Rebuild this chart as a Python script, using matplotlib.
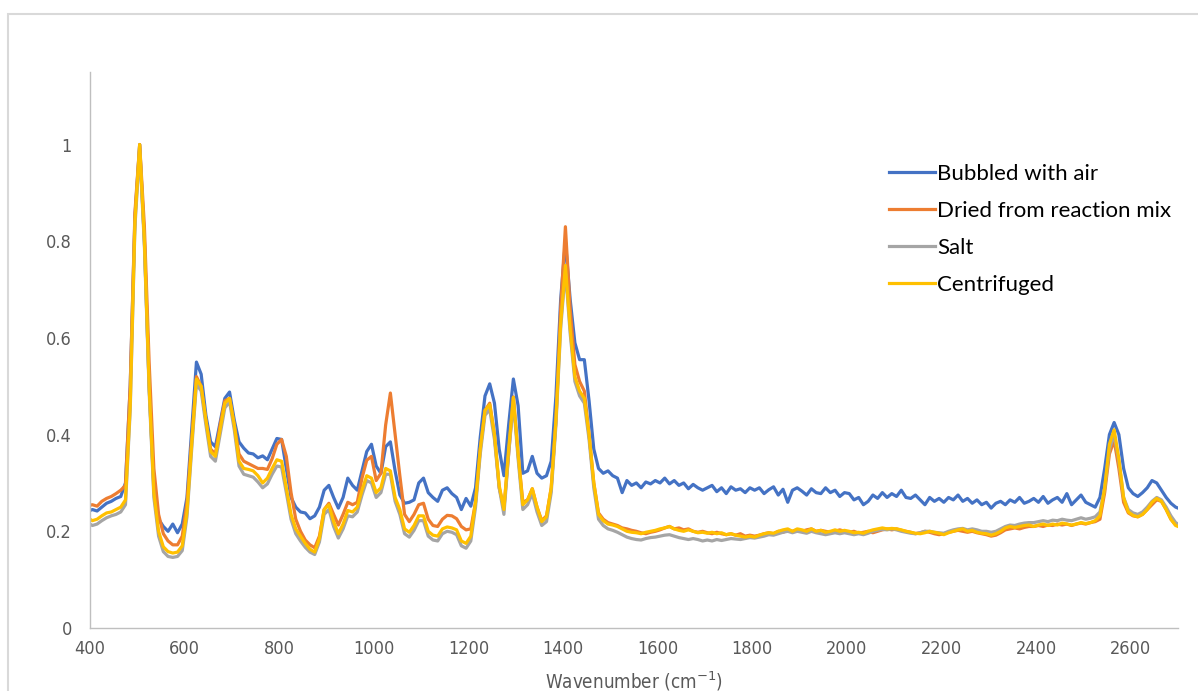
import matplotlib
matplotlib.use("Agg")
import matplotlib.pyplot as plt
import matplotlib.patches as mpatches
from matplotlib import font_manager

# ---------------- data ----------------
# wavenumber grid: 400, 405, 415, ..., 2695, 2700
wavenumber = [400] + list(range(405, 2700, 10)) + [2700]

bubbled_rows = [
    [0.245, 0.242, 0.250, 0.258, 0.262, 0.268, 0.272, 0.300, 0.500, 0.850],  # 405-495
    [1.000, 0.800, 0.500, 0.290, 0.225, 0.210, 0.200, 0.215, 0.197, 0.215],  # 505-595
    [0.270, 0.410, 0.550, 0.525, 0.440, 0.385, 0.375, 0.425, 0.475, 0.488],  # 605-695
    [0.430, 0.385, 0.372, 0.362, 0.360, 0.352, 0.356, 0.348, 0.370, 0.392],  # 705-795
    [0.390, 0.330, 0.270, 0.250, 0.240, 0.238, 0.226, 0.232, 0.250, 0.285],  # 805-895
    [0.295, 0.270, 0.248, 0.270, 0.310, 0.295, 0.285, 0.325, 0.365, 0.380],  # 905-995
    [0.335, 0.320, 0.375, 0.385, 0.325, 0.275, 0.258, 0.260, 0.265, 0.300],  # 1005-1095
    [0.310, 0.280, 0.270, 0.262, 0.285, 0.290, 0.278, 0.270, 0.245, 0.268],  # 1105-1195
    [0.252, 0.290, 0.395, 0.480, 0.505, 0.465, 0.370, 0.315, 0.420, 0.515],  # 1205-1295
    [0.460, 0.320, 0.325, 0.355, 0.320, 0.310, 0.315, 0.345, 0.480, 0.680],  # 1305-1395
    [0.800, 0.680, 0.590, 0.555, 0.555, 0.470, 0.370, 0.330, 0.320, 0.325],  # 1405-1495
    [0.315, 0.310, 0.280, 0.305, 0.295, 0.300, 0.290, 0.302, 0.298, 0.305],  # 1505-1595
    [0.300, 0.310, 0.298, 0.305, 0.295, 0.300, 0.288, 0.297, 0.290, 0.285],  # 1605-1695
    [0.290, 0.295, 0.282, 0.290, 0.278, 0.292, 0.285, 0.288, 0.280, 0.290],  # 1705-1795
    [0.285, 0.290, 0.278, 0.286, 0.292, 0.275, 0.287, 0.260, 0.285, 0.290],  # 1805-1895
    [0.283, 0.275, 0.288, 0.280, 0.278, 0.290, 0.280, 0.285, 0.272, 0.280],  # 1905-1995
    [0.278, 0.265, 0.270, 0.255, 0.262, 0.275, 0.268, 0.280, 0.270, 0.278],  # 2005-2095
    [0.272, 0.285, 0.270, 0.268, 0.275, 0.265, 0.255, 0.270, 0.262, 0.268],  # 2105-2195
    [0.260, 0.270, 0.265, 0.275, 0.262, 0.268, 0.258, 0.265, 0.255, 0.260],  # 2205-2295
    [0.248, 0.258, 0.262, 0.255, 0.265, 0.260, 0.270, 0.258, 0.262, 0.268],  # 2305-2395
    [0.260, 0.272, 0.258, 0.265, 0.270, 0.260, 0.278, 0.255, 0.265, 0.275],  # 2405-2495
    [0.260, 0.255, 0.250, 0.270, 0.330, 0.400, 0.425, 0.400, 0.330, 0.290],  # 2505-2595
    [0.278, 0.272, 0.280, 0.290, 0.305, 0.300, 0.285, 0.270, 0.258, 0.250],  # 2605-2695
]
bubbled = [0.243] + [v for r in bubbled_rows for v in r] + [0.248]

dried_rows = [
    [0.255, 0.252, 0.262, 0.268, 0.272, 0.278, 0.285, 0.295, 0.500, 0.860],
    [1.000, 0.830, 0.550, 0.330, 0.235, 0.195, 0.180, 0.172, 0.172, 0.190],
    [0.260, 0.390, 0.520, 0.500, 0.430, 0.370, 0.360, 0.420, 0.470, 0.475],
    [0.420, 0.360, 0.345, 0.340, 0.335, 0.330, 0.330, 0.328, 0.350, 0.380],
    [0.390, 0.355, 0.280, 0.225, 0.200, 0.182, 0.172, 0.166, 0.190, 0.245],
    [0.258, 0.235, 0.213, 0.235, 0.260, 0.255, 0.260, 0.310, 0.347, 0.355],
    [0.305, 0.320, 0.420, 0.486, 0.400, 0.315, 0.235, 0.220, 0.235, 0.255],
    [0.258, 0.225, 0.212, 0.210, 0.225, 0.233, 0.232, 0.226, 0.210, 0.203],
    [0.205, 0.260, 0.370, 0.450, 0.465, 0.400, 0.290, 0.248, 0.360, 0.478],
    [0.360, 0.260, 0.265, 0.288, 0.250, 0.222, 0.232, 0.290, 0.430, 0.660],
    [0.830, 0.660, 0.545, 0.510, 0.490, 0.400, 0.300, 0.238, 0.225, 0.218],
    [0.215, 0.212, 0.207, 0.205, 0.202, 0.200, 0.197, 0.195, 0.198, 0.200],
    [0.203, 0.207, 0.210, 0.205, 0.207, 0.203, 0.205, 0.200, 0.198, 0.200],
    [0.197, 0.195, 0.198, 0.195, 0.193, 0.195, 0.192, 0.195, 0.190, 0.192],
    [0.190, 0.192, 0.195, 0.197, 0.195, 0.200, 0.198, 0.202, 0.200, 0.203],
    [0.200, 0.203, 0.205, 0.200, 0.202, 0.200, 0.198, 0.200, 0.203, 0.200],
    [0.198, 0.200, 0.196, 0.198, 0.200, 0.197, 0.200, 0.203, 0.205, 0.203],
    [0.205, 0.202, 0.200, 0.198, 0.195, 0.197, 0.200, 0.198, 0.195, 0.193],
    [0.195, 0.198, 0.200, 0.202, 0.200, 0.198, 0.200, 0.197, 0.195, 0.193],
    [0.190, 0.192, 0.197, 0.203, 0.205, 0.207, 0.205, 0.208, 0.210, 0.210],
    [0.212, 0.210, 0.213, 0.212, 0.215, 0.213, 0.215, 0.212, 0.215, 0.217],
    [0.215, 0.218, 0.220, 0.225, 0.280, 0.360, 0.388, 0.330, 0.260, 0.238],
    [0.232, 0.230, 0.235, 0.245, 0.255, 0.265, 0.262, 0.245, 0.225, 0.213],
]
dried = [0.254] + [v for r in dried_rows for v in r] + [0.212]

salt_rows = [
    [0.212, 0.215, 0.222, 0.228, 0.232, 0.235, 0.240, 0.255, 0.450, 0.830],
    [0.990, 0.790, 0.490, 0.270, 0.190, 0.158, 0.148, 0.146, 0.148, 0.160],
    [0.230, 0.370, 0.505, 0.490, 0.420, 0.355, 0.345, 0.400, 0.455, 0.468],
    [0.410, 0.335, 0.318, 0.315, 0.312, 0.302, 0.290, 0.298, 0.318, 0.335],
    [0.333, 0.280, 0.225, 0.195, 0.180, 0.167, 0.157, 0.152, 0.178, 0.235],
    [0.245, 0.210, 0.186, 0.205, 0.232, 0.230, 0.240, 0.275, 0.305, 0.300],
    [0.270, 0.280, 0.318, 0.318, 0.262, 0.235, 0.195, 0.188, 0.202, 0.222],
    [0.222, 0.190, 0.182, 0.180, 0.195, 0.200, 0.198, 0.193, 0.170, 0.165],
    [0.180, 0.250, 0.360, 0.440, 0.452, 0.390, 0.290, 0.235, 0.360, 0.468],
    [0.350, 0.245, 0.255, 0.278, 0.240, 0.212, 0.220, 0.280, 0.420, 0.620],
    [0.740, 0.610, 0.510, 0.480, 0.465, 0.390, 0.290, 0.225, 0.212, 0.205],
    [0.202, 0.198, 0.193, 0.188, 0.185, 0.183, 0.182, 0.185, 0.187, 0.188],
    [0.190, 0.192, 0.193, 0.190, 0.187, 0.185, 0.183, 0.185, 0.183, 0.180],
    [0.182, 0.180, 0.183, 0.181, 0.183, 0.185, 0.184, 0.183, 0.185, 0.187],
    [0.186, 0.188, 0.190, 0.193, 0.192, 0.195, 0.198, 0.200, 0.197, 0.200],
    [0.198, 0.196, 0.200, 0.197, 0.195, 0.193, 0.195, 0.197, 0.195, 0.197],
    [0.195, 0.193, 0.195, 0.193, 0.196, 0.200, 0.202, 0.204, 0.203, 0.205],
    [0.203, 0.200, 0.198, 0.196, 0.195, 0.197, 0.200, 0.200, 0.198, 0.197],
    [0.196, 0.200, 0.203, 0.205, 0.206, 0.203, 0.205, 0.203, 0.200, 0.200],
    [0.198, 0.200, 0.205, 0.210, 0.213, 0.212, 0.215, 0.217, 0.218, 0.218],
    [0.220, 0.222, 0.220, 0.223, 0.222, 0.225, 0.223, 0.222, 0.225, 0.228],
    [0.225, 0.227, 0.230, 0.240, 0.290, 0.370, 0.400, 0.345, 0.270, 0.245],
    [0.238, 0.235, 0.240, 0.250, 0.262, 0.270, 0.265, 0.250, 0.232, 0.218],
]
salt = [0.215] + [v for r in salt_rows for v in r] + [0.215]

centrifuged_rows = [
    [0.222, 0.225, 0.232, 0.238, 0.240, 0.245, 0.250, 0.265, 0.460, 0.840],
    [1.000, 0.800, 0.500, 0.280, 0.200, 0.168, 0.158, 0.155, 0.157, 0.170],
    [0.240, 0.380, 0.515, 0.500, 0.430, 0.365, 0.355, 0.410, 0.465, 0.475],
    [0.420, 0.345, 0.330, 0.328, 0.325, 0.315, 0.300, 0.310, 0.330, 0.348],
    [0.345, 0.290, 0.235, 0.205, 0.190, 0.175, 0.163, 0.157, 0.185, 0.245],
    [0.255, 0.220, 0.195, 0.215, 0.243, 0.240, 0.250, 0.285, 0.315, 0.310],
    [0.280, 0.290, 0.330, 0.325, 0.270, 0.245, 0.205, 0.198, 0.212, 0.232],
    [0.232, 0.200, 0.192, 0.190, 0.205, 0.209, 0.207, 0.203, 0.180, 0.175],
    [0.190, 0.260, 0.370, 0.450, 0.462, 0.400, 0.295, 0.245, 0.370, 0.477],
    [0.360, 0.255, 0.265, 0.288, 0.250, 0.220, 0.230, 0.290, 0.430, 0.630],
    [0.750, 0.620, 0.520, 0.490, 0.475, 0.400, 0.300, 0.235, 0.222, 0.215],
    [0.213, 0.210, 0.205, 0.200, 0.198, 0.197, 0.195, 0.198, 0.200, 0.202],
    [0.205, 0.207, 0.210, 0.205, 0.202, 0.200, 0.203, 0.200, 0.197, 0.198],
    [0.196, 0.198, 0.195, 0.197, 0.193, 0.195, 0.192, 0.190, 0.188, 0.190],
    [0.188, 0.192, 0.195, 0.197, 0.196, 0.200, 0.203, 0.205, 0.200, 0.205],
    [0.203, 0.200, 0.205, 0.200, 0.202, 0.198, 0.200, 0.203, 0.200, 0.202],
    [0.200, 0.197, 0.198, 0.196, 0.200, 0.203, 0.205, 0.207, 0.205, 0.206],
    [0.205, 0.203, 0.200, 0.198, 0.196, 0.195, 0.197, 0.200, 0.198, 0.196],
    [0.193, 0.197, 0.200, 0.203, 0.205, 0.200, 0.202, 0.198, 0.196, 0.195],
    [0.192, 0.195, 0.200, 0.207, 0.210, 0.208, 0.210, 0.212, 0.213, 0.210],
    [0.213, 0.215, 0.212, 0.215, 0.213, 0.217, 0.215, 0.213, 0.215, 0.218],
    [0.216, 0.218, 0.222, 0.232, 0.290, 0.380, 0.410, 0.350, 0.270, 0.240],
    [0.233, 0.230, 0.235, 0.245, 0.260, 0.268, 0.262, 0.245, 0.225, 0.212],
]
centrifuged = [0.225] + [v for r in centrifuged_rows for v in r] + [0.210]

series_names = ["Bubbled with air", "Dried from reaction mix", "Salt", "Centrifuged"]
series_values = [bubbled, dried, salt, centrifuged]
series_colors = ["#4472C4", "#ED7D31", "#A5A5A5", "#FFC000"]

x_ticks = [400, 600, 800, 1000, 1200, 1400, 1600, 1800, 2000, 2200, 2400, 2600]
y_ticks = [0, 0.2, 0.4, 0.6, 0.8, 1]
y_tick_labels = ["0", "0.2", "0.4", "0.6", "0.8", "1"]
x_label = "Wavenumber (cm$^{-1}$)"

# ---------------- fonts ----------------
avail = {f.name for f in font_manager.fontManager.ttflist}
tick_family = ["Liberation Sans Narrow", "DejaVu Sans"] if "Liberation Sans Narrow" in avail else ["DejaVu Sans"]
legend_family = ["Lato", "DejaVu Sans"] if "Lato" in avail else ["DejaVu Sans"]

# ---------------- figure ----------------
W, H = 1198, 691
fig = plt.figure(figsize=(W / 100, H / 100), dpi=100)
fig.patch.set_facecolor("white")

ax = fig.add_axes([90 / W, 1 - 628 / H, (1178 - 90) / W, (628 - 72) / H])

for name, vals, col in zip(series_names, series_values, series_colors):
    ax.plot(wavenumber, vals, color=col, lw=2.3, label=name, solid_joinstyle="round")

ax.set_xlim(400, 2700)
ax.set_ylim(0, 1.15)
ax.set_xticks(x_ticks)
ax.set_xticklabels([str(t) for t in x_ticks])
ax.set_yticks(y_ticks)
ax.set_yticklabels(y_tick_labels)
ax.tick_params(length=0, colors="#595959", labelsize=13, pad=9)
for lab in ax.get_xticklabels() + ax.get_yticklabels():
    lab.set_family(tick_family)
    lab.set_stretch("condensed")
ax.tick_params(axis="y", pad=13)

for s in ["top", "right"]:
    ax.spines[s].set_visible(False)
for s in ["left", "bottom"]:
    ax.spines[s].set_color("#BFBFBF")
    ax.spines[s].set_linewidth(1.0)

ax.set_xlabel(x_label, color="#595959", fontsize=13.5, family=tick_family,
              fontstretch="condensed", labelpad=8)

leg = ax.legend(loc="upper left", bbox_to_anchor=(889 / W, 1 - 164 / H),
                bbox_transform=fig.transFigure, frameon=False,
                prop={"family": legend_family, "size": 16},
                handlelength=2.05, handletextpad=0.12, labelspacing=0.76,
                borderaxespad=0, borderpad=0)
for line in leg.get_lines():
    line.set_linewidth(2.3)

# chart-area border
fig.patches.append(mpatches.Rectangle((8 / W, -0.1), 1.2, 1 - 14 / H + 0.1,
                                      transform=fig.transFigure, fill=False,
                                      ec="#D9D9D9", lw=1.5, clip_on=False))

fig.savefig("out.png", dpi=100, facecolor="white")
